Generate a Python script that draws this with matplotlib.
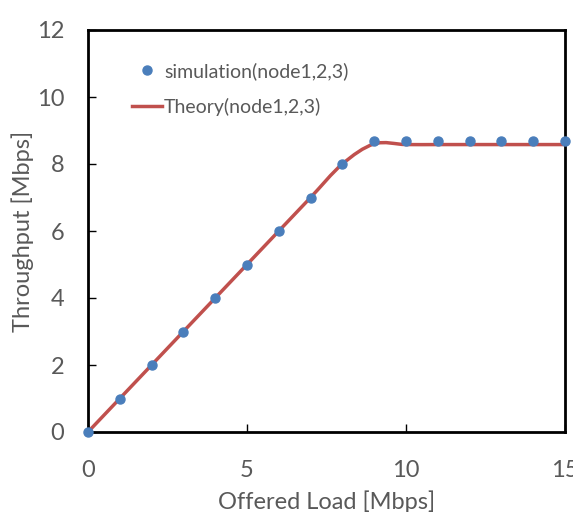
import matplotlib
matplotlib.use('Agg')
import matplotlib.pyplot as plt
from matplotlib.path import Path
from matplotlib.patches import PathPatch
import numpy as np

# data
load = [0, 1, 2, 3, 4, 5, 6, 7, 8, 9, 10, 11, 12, 13, 14, 15]
sim = [0, 1, 2, 3, 4, 5, 6, 7, 8, 8.68, 8.70, 8.68, 8.68, 8.70, 8.68, 8.68]
theory = [0, 1, 2, 3, 4, 5, 6, 7, 8, 8.6, 8.58, 8.58, 8.58, 8.58, 8.58, 8.58]

blue = '#4A7EBB'
red = '#C0504D'
gray = '#595959'

plt.rcParams['font.family'] = ['Lato', 'DejaVu Sans']

fig = plt.figure(figsize=(5.73, 5.12), dpi=100)
ax = fig.add_axes([88/573, 1 - 432/512, (565 - 88)/573, (432 - 30)/512])

# Excel-style smoothed line: cubic bezier segments through the theory points
x = np.array(load, float)
y = np.array(theory, float)
verts = [(x[0], y[0])]
codes = [Path.MOVETO]
for i in range(len(x) - 1):
    x0, y0 = (x[i-1], y[i-1]) if i > 0 else (x[i], y[i])
    x3, y3 = (x[i+2], y[i+2]) if i + 2 < len(x) else (x[i+1], y[i+1])
    c1 = (x[i] + (x[i+1] - x0) / 6, y[i] + (y[i+1] - y0) / 6)
    c2 = (x[i+1] - (x3 - x[i]) / 6, y[i+1] - (y3 - y[i]) / 6)
    verts += [c1, c2, (x[i+1], y[i+1])]
    codes += [Path.CURVE4] * 3
ax.add_patch(PathPatch(Path(verts, codes), fill=False, edgecolor=red, lw=2.5,
                       capstyle='round', zorder=2, clip_on=False))
ax.plot([], [], color=red, lw=2.5, label='Theory(node1,2,3)')
ax.plot(load, sim, 'o', color=blue, ms=6.5, zorder=3, clip_on=False,
        label='simulation(node1,2,3)')

ax.set_xlim(0, 15)
ax.set_ylim(0, 12)
ax.set_xticks([0, 5, 10, 15])
ax.set_yticks(range(0, 13, 2))
ax.tick_params(direction='in', length=6, width=1, colors='black',
               labelcolor=gray, labelsize=17)
ax.tick_params(axis='x', pad=20)
ax.tick_params(axis='y', pad=17)
for s in ax.spines.values():
    s.set_linewidth(2)
    s.set_color('black')

ax.set_xlabel('Offered Load [Mbps]', fontsize=17, color=gray, labelpad=7)
ax.set_ylabel('Throughput [Mbps]', fontsize=17, color=gray, labelpad=2)

h, l = ax.get_legend_handles_labels()
ax.legend(h[::-1], l[::-1], loc='upper left', bbox_to_anchor=(0.092, 0.92),
          frameon=False, fontsize=14, labelcolor=gray, handlelength=1.55,
          handletextpad=0.1, labelspacing=0.92, borderpad=0, borderaxespad=0)

fig.savefig('out.png', dpi=100)
